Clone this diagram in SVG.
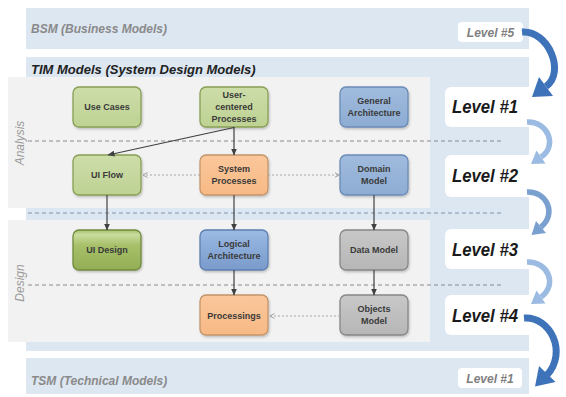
<svg xmlns="http://www.w3.org/2000/svg" width="566" height="397" viewBox="0 0 566 397">
<style>
  .band{fill:#dde7f2}
  .panel{fill:#f2f2f2}
  .box{stroke-width:1.3}
  .green{fill:url(#gGreen);stroke:#889f55}
  .dgreen{fill:url(#gDGreen);stroke:#6f8a3c}
  .orange{fill:url(#gOrange);stroke:#c3956b}
  .blue{fill:url(#gBlue);stroke:#6b8bb6}
  .dblue{fill:url(#gDBlue);stroke:#5d7fb0}
  .gray{fill:url(#gGray);stroke:#878787}
  .bt{font-family:"Liberation Sans",Arial,sans-serif;font-weight:bold;font-size:9px;fill:#3a3a3a;text-anchor:middle}
  .hdr{font-family:"Liberation Sans",Arial,sans-serif;font-weight:bold;font-style:italic;font-size:12px}
  .hdr2{font-family:"Liberation Sans",Arial,sans-serif;font-weight:bold;font-style:italic;font-size:13px;fill:#222}
  .lvl{font-family:"Liberation Sans",Arial,sans-serif;font-weight:bold;font-style:italic;font-size:18px;fill:#1a1a1a}
  .lvls{font-family:"Liberation Sans",Arial,sans-serif;font-weight:bold;font-style:italic;font-size:12px;fill:#808080}
  .side{font-family:"Liberation Sans",Arial,sans-serif;font-style:italic;font-size:12px;fill:#9a9a9a;text-anchor:middle}
  .dash{stroke:#8a8a8a;stroke-width:1.2;stroke-dasharray:4 3;fill:none}
  .dashb{stroke:#8095b0;stroke-width:1.2;stroke-dasharray:4 3;fill:none}
  .conn{stroke:#404040;stroke-width:1.2;fill:none;marker-end:url(#ah)}
  .dot{stroke:#a8a8a8;stroke-width:1;stroke-dasharray:2 2;fill:none;marker-end:url(#oh)}
  .lbox{fill:#ffffff}
  .arcD{stroke:#3f73b9;stroke-width:7;fill:none}
  .arcL{stroke:#9bbbe2;stroke-width:5.5;fill:none}
  .arcM{stroke:#7aa0d0;stroke-width:5.5;fill:none}
</style>
<defs>
  <linearGradient id="gGreen" x1="0" y1="0" x2="0" y2="1"><stop offset="0" stop-color="#cddda9"/><stop offset="1" stop-color="#bed293"/></linearGradient>
  <linearGradient id="gDGreen" x1="0" y1="0" x2="0" y2="1"><stop offset="0" stop-color="#a9c26e"/><stop offset="0.12" stop-color="#c9dc9e"/><stop offset="0.38" stop-color="#a7c069"/><stop offset="1" stop-color="#93ae55"/></linearGradient>
  <linearGradient id="gOrange" x1="0" y1="0" x2="0" y2="1"><stop offset="0" stop-color="#fbc79b"/><stop offset="1" stop-color="#f7b985"/></linearGradient>
  <linearGradient id="gBlue" x1="0" y1="0" x2="0" y2="1"><stop offset="0" stop-color="#a0bbdd"/><stop offset="1" stop-color="#8dacd3"/></linearGradient>
  <linearGradient id="gDBlue" x1="0" y1="0" x2="0" y2="1"><stop offset="0" stop-color="#9dbbe3"/><stop offset="0.35" stop-color="#8eaedb"/><stop offset="1" stop-color="#7a9bcb"/></linearGradient>
  <linearGradient id="gGray" x1="0" y1="0" x2="0" y2="1"><stop offset="0" stop-color="#c8c8c8"/><stop offset="1" stop-color="#b6b6b6"/></linearGradient>
  <filter id="sh" x="-10%" y="-10%" width="130%" height="140%"><feDropShadow dx="1" dy="1.5" stdDeviation="1" flood-color="#000" flood-opacity="0.22"/></filter>
  <marker id="ah" markerWidth="7" markerHeight="6" refX="6.5" refY="3" orient="auto" markerUnits="userSpaceOnUse"><path d="M0,0 L7,3 L0,6 Z" fill="#404040"/></marker>
  <marker id="oh" markerWidth="5" markerHeight="6" refX="4.5" refY="3" orient="auto" markerUnits="userSpaceOnUse"><path d="M0,0.5 L4.5,3 L0,5.5" fill="none" stroke="#a0a0a0" stroke-width="1"/></marker>
</defs>

<!-- background bands -->
<g id="bsm-band">
  <rect class="band" x="26" y="8" width="503" height="41"/>
  <text class="hdr" x="31" y="33" fill="#8a8a8a">BSM (Business Models)</text>
  <rect class="lbox" x="458" y="22" width="65" height="20" rx="4"/>
  <text class="lvls" x="490.5" y="37" text-anchor="middle">Level #5</text>
</g>
<g id="tim-band">
  <rect class="band" x="26" y="57" width="503" height="294"/>
  <text class="hdr2" x="31" y="74">TIM Models (System Design Models)</text>
</g>
<g id="analysis-panel">
  <rect class="panel" x="8" y="77" width="422" height="131"/>
  <text class="side" transform="translate(24,143) rotate(-90)">Analysis</text>
</g>
<g id="design-panel">
  <rect class="panel" x="8" y="220" width="422" height="122"/>
  <text class="side" transform="translate(24,283) rotate(-90)">Design</text>
</g>
<g id="tsm-band">
  <rect class="band" x="26" y="358" width="503" height="36"/>
  <text class="hdr" x="31" y="385" fill="#8a8a8a">TSM (Technical Models)</text>
  <rect class="lbox" x="458" y="368" width="64" height="20" rx="4"/>
  <text class="lvls" x="490" y="383" text-anchor="middle">Level #1</text>
</g>

<!-- level separators -->
<g id="separators">
  <line class="dash" x1="28" y1="141" x2="503" y2="141"/>
  <line class="dashb" x1="28" y1="213" x2="503" y2="213"/>
  <line class="dash" x1="28" y1="285" x2="503" y2="285"/>
</g>

<!-- level labels -->
<g id="level1">
  <rect class="lbox" x="445" y="87" width="100" height="40" rx="6"/>
  <text class="lvl" x="452" y="113" textLength="66" lengthAdjust="spacingAndGlyphs">Level #1</text>
</g>
<g id="level2">
  <rect class="lbox" x="445" y="155" width="100" height="42" rx="6"/>
  <text class="lvl" x="452" y="182" textLength="66" lengthAdjust="spacingAndGlyphs">Level #2</text>
</g>
<g id="level3">
  <rect class="lbox" x="445" y="229" width="100" height="40" rx="6"/>
  <text class="lvl" x="452" y="256" textLength="66" lengthAdjust="spacingAndGlyphs">Level #3</text>
</g>
<g id="level4">
  <rect class="lbox" x="445" y="295" width="100" height="40" rx="6"/>
  <text class="lvl" x="452" y="322" textLength="66" lengthAdjust="spacingAndGlyphs">Level #4</text>
</g>

<!-- nodes -->
<g id="use-cases"><rect class="box green" filter="url(#sh)" x="73" y="87" width="68" height="40" rx="6"/><text class="bt" x="107" y="110">Use Cases</text></g>
<g id="user-centered-processes"><rect class="box green" filter="url(#sh)" x="200" y="87" width="68" height="40" rx="6"/><text class="bt" x="234" y="98">User-</text><text class="bt" x="234" y="110">centered</text><text class="bt" x="234" y="122">Processes</text></g>
<g id="general-architecture"><rect class="box blue" filter="url(#sh)" x="340" y="87" width="68" height="40" rx="6"/><text class="bt" x="374" y="104">General</text><text class="bt" x="374" y="116">Architecture</text></g>

<g id="ui-flow"><rect class="box green" filter="url(#sh)" x="73" y="155" width="68" height="40" rx="6"/><text class="bt" x="107" y="178">UI Flow</text></g>
<g id="system-processes"><rect class="box orange" filter="url(#sh)" x="200" y="155" width="68" height="40" rx="6"/><text class="bt" x="234" y="172">System</text><text class="bt" x="234" y="184">Processes</text></g>
<g id="domain-model"><rect class="box blue" filter="url(#sh)" x="340" y="155" width="68" height="40" rx="6"/><text class="bt" x="374" y="172">Domain</text><text class="bt" x="374" y="184">Model</text></g>

<g id="ui-design"><rect class="box dgreen" filter="url(#sh)" x="73" y="230" width="68" height="40" rx="6"/><text class="bt" x="107" y="253">UI Design</text></g>
<g id="logical-architecture"><rect class="box dblue" filter="url(#sh)" x="200" y="230" width="68" height="40" rx="6"/><text class="bt" x="234" y="247">Logical</text><text class="bt" x="234" y="259">Architecture</text></g>
<g id="data-model"><rect class="box gray" filter="url(#sh)" x="340" y="230" width="68" height="40" rx="6"/><text class="bt" x="374" y="253">Data Model</text></g>

<g id="processings"><rect class="box orange" filter="url(#sh)" x="200" y="295" width="68" height="40" rx="6"/><text class="bt" x="234" y="319">Processings</text></g>
<g id="objects-model"><rect class="box gray" filter="url(#sh)" x="340" y="295" width="68" height="40" rx="6"/><text class="bt" x="374" y="312">Objects</text><text class="bt" x="374" y="324">Model</text></g>

<!-- connectors -->
<g id="connectors">
  <line class="conn" x1="234" y1="127" x2="234" y2="155"/>
  <line class="conn" x1="234" y1="127.5" x2="108" y2="155"/>
  <line class="conn" x1="107" y1="195" x2="107" y2="230"/>
  <line class="conn" x1="234" y1="195" x2="234" y2="230"/>
  <line class="conn" x1="374" y1="195" x2="374" y2="230"/>
  <line class="conn" x1="234" y1="270" x2="234" y2="295"/>
  <line class="conn" x1="374" y1="270" x2="374" y2="295"/>
  <line class="dot" x1="200" y1="175" x2="143" y2="175"/>
  <line class="dot" x1="268" y1="175" x2="339" y2="175"/>
  <line class="dot" x1="340" y1="316" x2="270" y2="316"/>
</g>

<!-- level transition arrows -->
<g id="level-arrows">
  <path class="arcD" d="M522 32 C548 30 566 72 546 86.5"/>
  <polygon fill="#3f73b9" points="532,97 553,96 539,77"/>
  <path class="arcL" d="M527 122 C548 121 558 146 541 157"/>
  <polygon fill="#9bbbe2" points="531,164 545.5,163.5 536.5,150.5"/>
  <path class="arcM" d="M527 192 C547 191 557 214 541 227"/>
  <polygon fill="#7aa0d0" points="531.5,235 546,233 536,221"/>
  <path class="arcL" d="M527 262 C548 261 558 285 541 297"/>
  <polygon fill="#9bbbe2" points="531,304 545.5,303.5 536.5,290.5"/>
  <path class="arcD" d="M524 318 C550 316 568 352 547 375"/>
  <polygon fill="#3f73b9" points="535,386.5 555.5,382 539,366"/>
</g>
</svg>
